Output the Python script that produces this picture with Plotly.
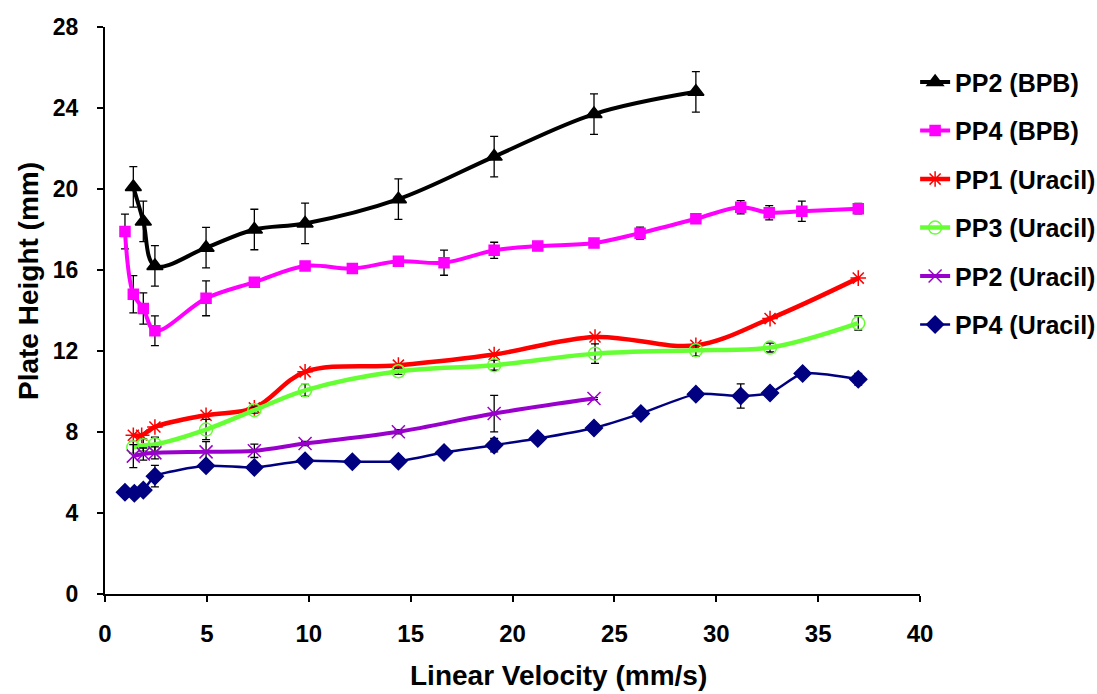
import plotly.graph_objects as go

# ---- data ----
pp2_bpb_x = [1.39, 1.88, 2.45, 4.96, 7.33, 9.82, 14.4, 19.1, 24.0, 29.0]
pp2_bpb_y = [20.1, 18.4, 16.2, 17.1, 18.0, 18.3, 19.5, 21.6, 23.7, 24.8]
pp2_bpb_e = [1.0, 1.0, 1.0, 1.0, 1.0, 1.0, 1.0, 1.0, 1.0, 1.0]

pp4_bpb_x = [0.98, 1.39, 1.88, 2.45, 4.96, 7.33, 9.82, 12.14, 14.4, 16.64, 19.1, 21.24, 24.0, 26.26, 29.0, 31.2, 32.6, 34.2, 36.97]
pp4_bpb_y = [17.9, 14.8, 14.1, 13.0, 14.6, 15.4, 16.2, 16.07, 16.43, 16.36, 16.97, 17.18, 17.33, 17.82, 18.53, 19.1, 18.83, 18.9, 19.03]
pp4_bpb_e = [0.86, 0.92, 0.77, 0.73, 0.86, 0.15, 0.1, 0.1, 0.15, 0.62, 0.4, 0.1, 0.1, 0.3, 0.1, 0.33, 0.35, 0.5, 0.26]

pp1_ura_x = [1.39, 1.8, 2.45, 4.96, 7.33, 9.82, 14.4, 19.1, 24.05, 29.0, 32.64, 36.97]
pp1_ura_y = [7.84, 7.84, 8.25, 8.83, 9.19, 10.97, 11.3, 11.83, 12.69, 12.28, 13.6, 15.6]

pp3_ura_x = [1.39, 1.88, 2.45, 4.96, 7.33, 9.82, 14.4, 19.1, 24.05, 29.0, 32.64, 36.97]
pp3_ura_y = [7.24, 7.35, 7.39, 8.12, 9.08, 10.06, 11.0, 11.3, 11.87, 12.04, 12.17, 13.38]
pp3_ura_e = [0.3, 0.3, 0.35, 0.5, 0.15, 0.29, 0.15, 0.25, 0.48, 0.28, 0.22, 0.35]

pp2_ura_x = [1.39, 1.88, 2.45, 4.96, 7.33, 9.82, 14.4, 19.1, 24.0]
pp2_ura_y = [6.81, 6.91, 6.97, 7.02, 7.07, 7.43, 8.01, 8.91, 9.65]
pp2_ura_e = [0.57, 0.3, 0.3, 0.5, 0.33, 0.1, 0.1, 0.9, 0.05]

pp4_ura_x = [0.98, 1.44, 1.88, 2.45, 4.96, 7.33, 9.82, 12.14, 14.4, 16.64, 19.1, 21.24, 24.0, 26.3, 29.0, 31.2, 32.64, 34.24, 36.97]
pp4_ura_y = [5.02, 4.97, 5.13, 5.82, 6.33, 6.25, 6.58, 6.53, 6.56, 6.99, 7.35, 7.68, 8.2, 8.91, 9.87, 9.78, 9.93, 10.89, 10.6]
pp4_ura_e = [0, 0, 0, 0.53, 0.1, 0.1, 0.1, 0, 0.1, 0.1, 0.33, 0, 0, 0.1, 0.25, 0.6, 0.1, 0, 0.29]

x_ticks = [0, 5, 10, 15, 20, 25, 30, 35, 40]
y_ticks = [0, 4, 8, 12, 16, 20, 24, 28]
x_title = "Linear Velocity (mm/s)"
y_title = "Plate Height (mm)"

series = [
    ("PP2 (BPB)", pp2_bpb_x, pp2_bpb_y, pp2_bpb_e, "#000000", "triangle-up", 14, 4, 1.0),
    ("PP4 (BPB)", pp4_bpb_x, pp4_bpb_y, pp4_bpb_e, "#FF00FF", "square", 10, 4, 1.0),
    ("PP1 (Uracil)", pp1_ura_x, pp1_ura_y, None, "#FF0000", "asterisk-open", 13, 4.5, 1.0),
    ("PP3 (Uracil)", pp3_ura_x, pp3_ura_y, pp3_ura_e, "#66FF33", "circle-open", 13, 4.5, 1.0),
    ("PP2 (Uracil)", pp2_ura_x, pp2_ura_y, pp2_ura_e, "#9900CC", "x-thin-open", 13, 4, 1.0),
    ("PP4 (Uracil)", pp4_ura_x, pp4_ura_y, pp4_ura_e, "#000080", "diamond", 13, 2.5, 0.6),
]

fig = go.Figure()
for i, (name, xs, ys, es, col, sym, msz, lw, sm) in enumerate(series):
    err = None
    if es is not None:
        err = dict(type="data", array=es, visible=True, color="#000000", thickness=1.3, width=4)
    fig.add_trace(go.Scatter(
        x=xs, y=ys, name=name, mode="lines+markers", legendgroup=str(i),
        line=dict(color=col, width=lw, shape="spline", smoothing=sm),
        marker=dict(symbol=sym, size=msz, color=col, line=dict(color=col, width=1.5)),
        error_y=err,
    ))

fig.update_layout(
    width=1097, height=694,
    margin=dict(l=105, r=177, t=27, b=100, autoexpand=False),
    paper_bgcolor="white", plot_bgcolor="white",
    font=dict(family="Liberation Sans, Arial", color="#000000"),
    showlegend=True,
    legend=dict(x=0.994, y=0.943, xanchor="left", yanchor="top",
                font=dict(size=25, family="Liberation Sans, Arial", weight="bold"),
                tracegroupgap=13, itemwidth=30, bgcolor="rgba(0,0,0,0)"),
    annotations=[
        dict(text=x_title, xref="paper", yref="paper", x=0.556, y=-0.144,
             xanchor="center", yanchor="middle", showarrow=False,
             font=dict(size=28, family="Liberation Sans", weight="bold", color="#000000")),
        dict(text=y_title, xref="paper", yref="paper", x=-0.0945, y=0.552,
             xanchor="center", yanchor="middle", showarrow=False, textangle=-90,
             font=dict(size=28, family="Liberation Sans", weight="bold", color="#000000")),
    ],
)
fig.update_xaxes(
    range=[0, 40], tickvals=x_ticks, ticktext=[str(v) for v in x_ticks],
    showline=True, linecolor="black", linewidth=2, ticks="outside", ticklen=6, tickwidth=1.5,
    tickcolor="black", showgrid=False, zeroline=False, ticklabelstandoff=11, automargin=False,
    tickfont=dict(size=24, family="Liberation Sans", weight="bold"),
)
fig.update_yaxes(
    range=[0, 28], tickvals=y_ticks, ticktext=[str(v) for v in y_ticks],
    showline=True, linecolor="black", linewidth=2, ticks="outside", ticklen=6, tickwidth=1.5,
    tickcolor="black", showgrid=False, zeroline=False, ticklabelstandoff=14, automargin=False,
    tickfont=dict(size=23, family="Liberation Sans", weight="bold"),
)

fig.write_html("out.html")
